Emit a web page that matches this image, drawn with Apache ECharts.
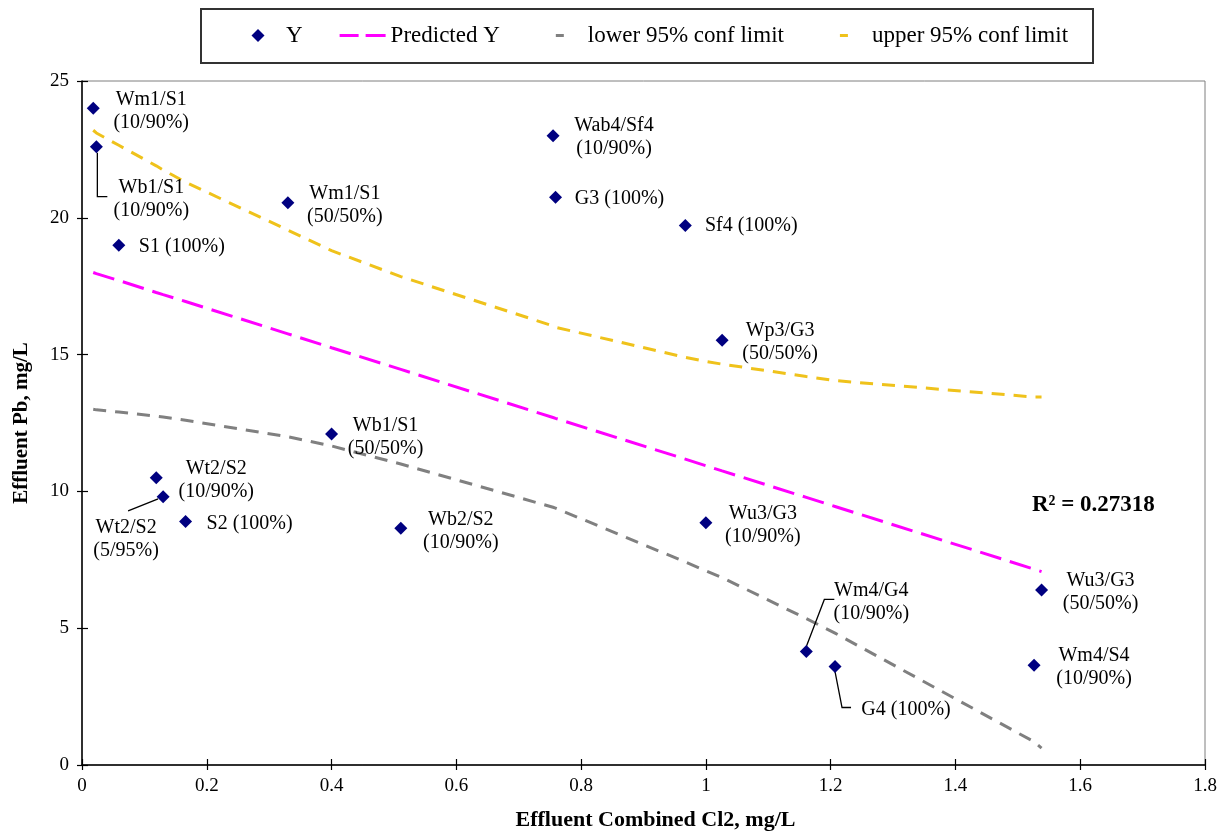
<!DOCTYPE html>
<html>
<head>
<meta charset="utf-8">
<title>Effluent Pb vs Effluent Combined Cl2</title>
<script src="https://cdn.jsdelivr.net/npm/echarts@6/dist/echarts.min.js"></script>
<style>
  html, body { margin: 0; padding: 0; background: #ffffff; }
  #chart { width: 1228px; height: 839px; }
</style>
</head>
<body>
<div id="chart"></div>
<script>
// Sample blends (sorted by combined chlorine)
const sampleNames = [
  'Wm1/S1\n(10/90%)', 'Wb1/S1\n(10/90%)', 'S1 (100%)', 'Wt2/S2\n(10/90%)',
  'Wt2/S2\n(5/95%)', 'S2 (100%)', 'Wm1/S1\n(50/50%)', 'Wb1/S1\n(50/50%)',
  'Wb2/S2\n(10/90%)', 'Wab4/Sf4\n(10/90%)', 'G3 (100%)', 'Sf4 (100%)',
  'Wu3/G3\n(10/90%)', 'Wp3/G3\n(50/50%)', 'Wm4/G4\n(10/90%)', 'G4 (100%)',
  'Wm4/S4\n(10/90%)', 'Wu3/G3\n(50/50%)'
];
// Effluent combined Cl2, mg/L
const cl2 = [0.018, 0.023, 0.059, 0.119, 0.13, 0.166, 0.33, 0.40, 0.511, 0.755,
             0.759, 0.967, 1.0, 1.026, 1.161, 1.207, 1.526, 1.538];
// Effluent Pb, mg/L (observed Y)
const pb = [24.0, 22.6, 19.0, 10.5, 9.8, 8.9, 20.55, 12.1, 8.65, 23.0,
            20.75, 19.72, 8.85, 15.52, 4.15, 3.6, 3.65, 6.4];
// Regression output at each Cl2 value
const predictedPb = [18.0, 17.96, 17.71, 17.27, 17.19, 16.94, 15.76, 15.25, 14.46, 12.7,
                     12.67, 11.18, 10.94, 10.75, 9.78, 9.45, 7.16, 7.07];
const lower95 = [13.0, 12.98, 12.9, 12.75, 12.72, 12.6, 12.0, 11.66, 11.0, 9.42,
                 9.39, 7.42, 7.1, 6.85, 5.35, 4.82, 0.85, 0.62];
const upper95 = [23.2, 23.1, 22.65, 21.9, 21.75, 21.3, 19.55, 18.8, 17.85, 16.05,
                 16.0, 14.9, 14.75, 14.65, 14.2, 14.05, 13.45, 13.45];
const rSquaredText = 'R\u00B2 = 0.27318';
const seriesNames = ['Y', 'Predicted Y', 'lower 95% conf limit', 'upper 95% conf limit'];

// Label placement: centre of each label block relative to its marker (px)
const labelOffsets = [
  [58, 3], [55, 53], [63, 2], [60, 3], [-37, 42], [64, 2], [57, 2], [54, 3], [60, 3],
  [61, 2], [64, 1], [66, 0], [57, 2], [58, 2], [65, -49], [71, 43], [60, 2], [59, 2]
];
// Leader lines from marker to label (px offsets from marker centre)
const leaderLines = {
  1: [[1, 6], [1, 50], [11, 50]],
  4: [[-5, 2], [-35, 14]],
  14: [[0, -5], [18, -52], [28, -52]],
  15: [[0, 5], [7, 41], [16, 41]]
};

const SERIF = 'Liberation Serif, Times New Roman, serif';
const MARKER = 13;
const COLORS = { y: '#000080', pred: '#ff00ff', lower: '#808080', upper: '#efc21b' };

const chart = echarts.init(document.getElementById('chart'), null, { renderer: 'canvas' });

const pointData = cl2.map((x, i) => ({
  value: [x, pb[i]],
  name: sampleNames[i],
  label: { position: [labelOffsets[i][0] + MARKER / 2, labelOffsets[i][1] + MARKER / 2] }
}));
const toLine = arr => cl2.map((x, i) => [x, arr[i]]);

const axisCommon = {
  axisLine: { show: true, lineStyle: { color: '#000', width: 1.5 } },
  axisTick: { show: true, inside: false, length: 5, lineStyle: { color: '#000', width: 1.2 } },
  splitLine: { show: false }
};
const innerTicks = {
  axisLine: { show: false },
  axisTick: { show: true, inside: true, length: 6, lineStyle: { color: '#000', width: 1.2 } },
  axisLabel: { show: false },
  splitLine: { show: false }
};

const option = {
  backgroundColor: '#ffffff',
  animation: false,
  grid: {
    left: 82, right: 23, top: 81, bottom: 74,
    show: true, borderColor: '#7f7f7f', borderWidth: 1, backgroundColor: 'transparent'
  },
  legend: {
    data: [
      { name: seriesNames[0], icon: 'path://M0,0M46,13M23,0L29.5,6.5L23,13L16.5,6.5Z' },
      { name: seriesNames[1], icon: 'path://M0,0M46,13M0,5h19v3h-19zM26,5h20v3h-20z' },
      { name: seriesNames[2], icon: 'path://M0,0M46,13M19,5h8v3h-8z' },
      { name: seriesNames[3], icon: 'path://M0,0M46,13M19,5h8v3h-8z' }
    ],
    left: 235, top: 24, padding: 0,
    itemWidth: 46, itemHeight: 13, itemGap: 37,
    itemStyle: { borderWidth: 0, opacity: 1 },
    textStyle: { color: '#000', fontFamily: SERIF, fontSize: 23 },
    selectedMode: false
  },
  xAxis: [
    Object.assign({
      type: 'value', min: 0, max: 1.8, interval: 0.2, position: 'bottom',
      name: 'Effluent Combined Cl2, mg/L', nameLocation: 'middle', nameGap: 44,
      nameTextStyle: { color: '#000', fontFamily: SERIF, fontSize: 22, fontWeight: 'bold', padding: [0, 0, 0, 24] },
      axisLabel: { color: '#000', fontFamily: SERIF, fontSize: 19, margin: 12 }
    }, axisCommon),
    Object.assign({ type: 'value', min: 0, max: 1.8, interval: 0.2, position: 'bottom' }, innerTicks)
  ],
  yAxis: [
    Object.assign({
      type: 'value', min: 0, max: 25, interval: 5, position: 'left',
      name: 'Effluent Pb, mg/L', nameLocation: 'middle', nameGap: 50,
      nameTextStyle: { color: '#000', fontFamily: SERIF, fontSize: 21, fontWeight: 'bold' },
      axisLabel: { color: '#000', fontFamily: SERIF, fontSize: 19, margin: 13 }
    }, axisCommon),
    Object.assign({ type: 'value', min: 0, max: 25, interval: 5, position: 'left' }, innerTicks)
  ],
  series: [
    {
      name: seriesNames[1], type: 'line', data: toLine(predictedPb),
      symbol: 'none', z: 2,
      lineStyle: { color: COLORS.pred, width: 3, type: [22, 9] },
      itemStyle: { color: COLORS.pred }
    },
    {
      name: seriesNames[2], type: 'line', data: toLine(lower95),
      symbol: 'none', z: 2,
      lineStyle: { color: COLORS.lower, width: 3, type: [13, 9] },
      itemStyle: { color: COLORS.lower }
    },
    {
      name: seriesNames[3], type: 'line', data: toLine(upper95),
      symbol: 'none', z: 2,
      lineStyle: { color: COLORS.upper, width: 3, type: [13, 9] },
      itemStyle: { color: COLORS.upper }
    },
    {
      name: seriesNames[0], type: 'scatter', data: pointData,
      symbol: 'diamond', symbolSize: MARKER, z: 5,
      itemStyle: { color: COLORS.y, opacity: 1 },
      label: {
        show: true, formatter: '{b}', color: '#000',
        fontFamily: SERIF, fontSize: 20, lineHeight: 23,
        align: 'center', verticalAlign: 'middle'
      },
      emphasis: { disabled: true }
    }
  ]
};

chart.setOption(option);

// Legend frame, R² annotation and label leader lines
const graphics = [
  {
    type: 'rect', left: 200, top: 8, z: 0,
    shape: { width: 892, height: 54 },
    style: { fill: 'transparent', stroke: '#333', lineWidth: 2 }
  },
  {
    type: 'text', left: 1032, top: 494, z: 10,
    style: { text: rSquaredText, fill: '#000', font: 'bold 23px ' + SERIF }
  }
];
Object.keys(leaderLines).forEach(key => {
  const i = Number(key);
  const c = chart.convertToPixel({ gridIndex: 0 }, [cl2[i], pb[i]]);
  graphics.push({
    type: 'polyline', z: 4, silent: true,
    shape: { points: leaderLines[key].map(p => [c[0] + p[0], c[1] + p[1]]) },
    style: { stroke: '#000', lineWidth: 1.3, fill: null }
  });
});
chart.setOption({ graphic: graphics });
</script>
</body>
</html>
